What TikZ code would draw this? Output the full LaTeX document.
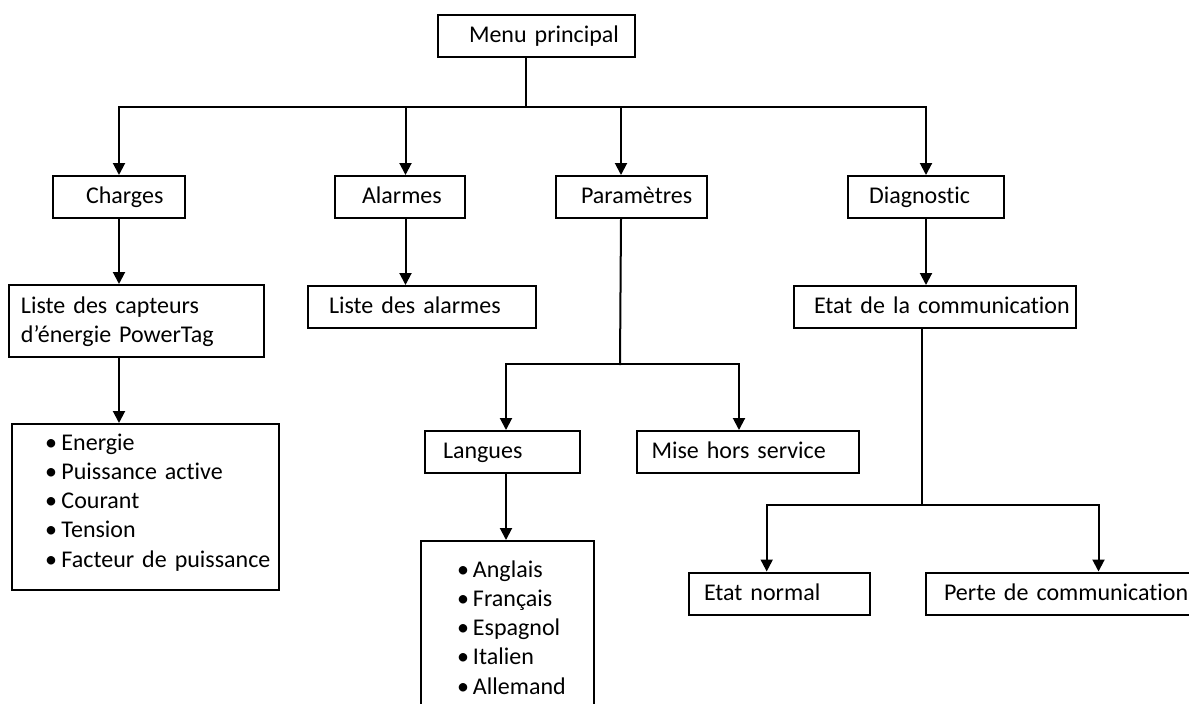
\documentclass[tikz,border=0pt]{standalone}
\usepackage{fontspec}
\setmainfont{Carlito}[Ligatures=NoCommon]
\usetikzlibrary{arrows.meta}
\begin{document}
\begin{tikzpicture}[x=1pt,y=-1pt,
  font=\fontsize{24}{29.3}\selectfont,
  box/.style 2 args={draw, line width=2pt, anchor=north west, inner ysep=0pt,
    inner xsep=0pt, align=left, minimum width=#1, text width=#1,
    text height=18pt, text depth=5pt, minimum height=42pt,
    execute at begin node={\leftskip=#2pt}},
  line/.style={line width=2pt, line cap=rect},
  arr/.style={line width=2pt, -{Triangle[length=12pt,width=12pt]}},
]
\useasboundingbox (0,0) rectangle (1189,704);
\clip (0,0) rectangle (1189,704);

% boxes
\node[box={197pt}{31}] (menu) at (437,14) {Menu principal};
\node[box={132pt}{33}] (charges) at (52,175) {Charges};
\node[box={130pt}{27}] (alarmes) at (334,175) {Alarmes};
\node[box={151pt}{25}] (param) at (555,175) {Paramètres};
\node[box={156pt}{21}] (diag) at (847,175) {Diagnostic};
\node[box={255pt}{12}, minimum height=72pt, text depth=34pt] (capteurs) at (8,284)
  {Liste des capteurs\\d’énergie PowerTag};
\node[box={228pt}{21}] (lalarmes) at (307,285) {Liste des alarmes};
\node[box={282pt}{20}] (etatcomm) at (793,285) {Etat de la communication};
\node[box={155pt}{18}] (langues) at (424,430) {Langues};
\node[box={222.5pt}{15}] (mise) at (635.5,430) {Mise hors service};
\node[box={267pt}{33}, minimum height=166pt, text depth=132pt] (energy) at (11,423)
  {\makebox[16.5pt][l]{•}Energie\\
   \makebox[16.5pt][l]{•}Puissance active\\
   \makebox[16.5pt][l]{•}Courant\\
   \makebox[16.5pt][l]{•}Tension\\
   \makebox[16.5pt][l]{•}Facteur de puissance};
\node[box={173pt}{36}, minimum height=180pt, text depth=126pt] (langs) at (420,540)
  {\makebox[16pt][l]{•}Anglais\\
   \makebox[16pt][l]{•}Français\\
   \makebox[16pt][l]{•}Espagnol\\
   \makebox[16pt][l]{•}Italien\\
   \makebox[16pt][l]{•}Allemand};
\node[box={181pt}{15}] (normal) at (688,571.5) {Etat normal};
\node[box={290pt}{18}] (perte) at (925,571.5) {Perte de communication};

% helper coordinates
\coordinate (b1) at (526,107);
\coordinate (ta) at ([xshift=5.5pt]alarmes.north);
\coordinate (tp) at ([xshift=-10.5pt]param.north);
\coordinate (b2) at (620,364);
\coordinate (lx) at ([xshift=3.5pt]langues.north);
\coordinate (mx) at ([xshift=-8.75pt]mise.north);
\coordinate (b3) at (922,505);
\coordinate (nx) at ([xshift=-12.8pt]normal.north);
\coordinate (px) at ([xshift=27.5pt]perte.north);

% top level
\draw[line] (b1 |- menu.south) -- (b1);
\draw[line] (charges.north |- b1) -- (diag.north |- b1);
\draw[arr] (charges.north |- b1) -- (charges.north);
\draw[arr] (ta |- b1) -- (ta);
\draw[arr] (tp |- b1) -- (tp);
\draw[arr] (diag.north |- b1) -- (diag.north);

% Charges branch
\draw[arr] (charges.south) -- (charges.south |- capteurs.north);
\draw[arr] (charges.south |- capteurs.south) -- (charges.south |- energy.north);

% Alarmes branch
\draw[arr] (ta |- alarmes.south) -- (ta |- lalarmes.north);

% Parametres branch
\draw[line] (tp |- param.south) -- (b2);
\draw[line] (lx |- b2) -- (mx |- b2);
\draw[arr] (lx |- b2) -- (lx);
\draw[arr] (mx |- b2) -- (mx);
\draw[arr] (lx |- langues.south) -- (lx |- langs.north);

% Diagnostic branch
\draw[arr] (diag.south) -- (diag.south |- etatcomm.north);
\draw[line] (b3 |- etatcomm.south) -- (b3);
\draw[line] (nx |- b3) -- (px |- b3);
\draw[arr] (nx |- b3) -- (nx);
\draw[arr] (px |- b3) -- (px);
\end{tikzpicture}
\end{document}
